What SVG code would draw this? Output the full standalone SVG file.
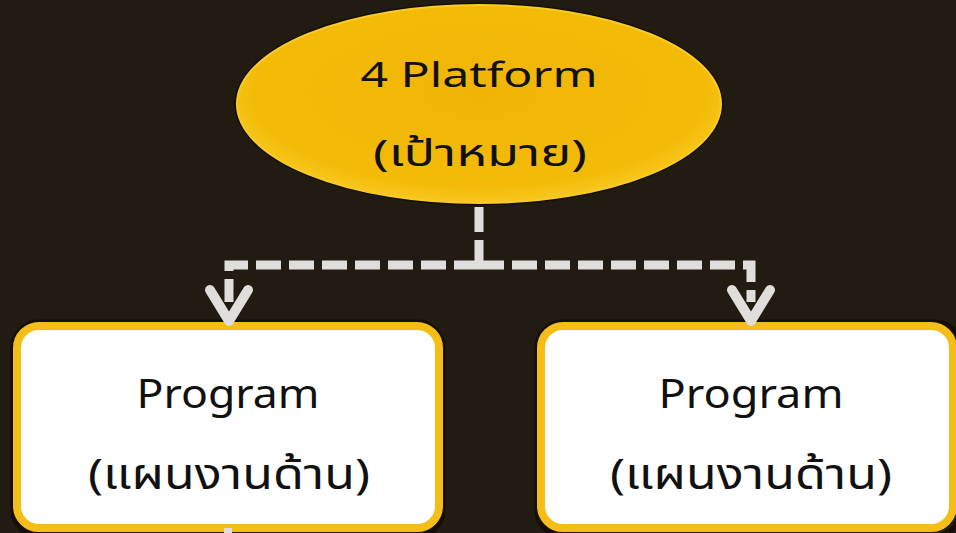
<svg xmlns="http://www.w3.org/2000/svg" width="956" height="533" viewBox="0 0 956 533">
  <style>
    .bg { fill: #221b12; }
    .halo { fill: none; stroke: #150e07; }
    .box { fill: #ffffff; stroke: #f4bd17; stroke-width: 8; }
    .txt { font-family: "Noto Sans", "Noto Sans Thai", "DejaVu Sans", sans-serif; fill: #111111; text-anchor: middle; }
    .t1 { font-size: 35px; }
    .t1th { font-size: 37px; }
    .t2 { font-size: 40px; }
    .t2th { font-size: 42px; }
    .conn { fill: none; stroke: #e0dedc; stroke-width: 9; stroke-dasharray: 25 8; }
    .solid { fill: none; stroke: #e0dedc; stroke-width: 8; }
  </style>
  <defs>
    <radialGradient id="goldFill" cx="0.5" cy="0.45" r="0.55">
      <stop offset="0" stop-color="#f1b406"/>
      <stop offset="0.85" stop-color="#f3bb08"/>
      <stop offset="1" stop-color="#f8c820"/>
    </radialGradient>
    <marker id="chev" markerUnits="userSpaceOnUse" viewBox="-20 -30 60 60" markerWidth="60" markerHeight="60" refX="0" refY="0" orient="auto" overflow="visible">
      <path d="M -12 -19 L 19 0 L -12 19" fill="none" stroke="#e0dedc" stroke-width="10" stroke-linejoin="round" stroke-linecap="round"/>
    </marker>
  </defs>
  <rect class="bg" x="0" y="0" width="956" height="533"/>

  <g id="node-platform">
    <ellipse class="halo" cx="479" cy="104" rx="243" ry="100" stroke-width="3"/>
    <ellipse cx="479" cy="104" rx="242" ry="99" fill="url(#goldFill)" stroke="#f8cb2a" stroke-width="2"/>
    <text class="txt t1" x="479" y="87" textLength="237" lengthAdjust="spacingAndGlyphs">4 Platform</text>
    <text class="txt t1th" x="480" y="166" textLength="214" lengthAdjust="spacingAndGlyphs">(เป้าหมาย)</text>
  </g>

  <g id="node-program-left">
    <rect class="halo" x="13" y="322" width="430" height="214" rx="26" stroke-width="5"/>
    <rect class="box" x="17" y="326" width="422" height="202" rx="22"/>
    <text class="txt t2" x="228" y="408" textLength="183" lengthAdjust="spacingAndGlyphs">Program</text>
    <text class="txt t2th" x="229" y="489" textLength="282" lengthAdjust="spacingAndGlyphs">(แผนงานด้าน)</text>
  </g>

  <g id="node-program-right">
    <rect class="halo" x="537" y="322" width="424" height="214" rx="26" stroke-width="5"/>
    <rect class="box" x="541" y="326" width="412" height="202" rx="22"/>
    <text class="txt t2" x="751" y="408" textLength="185" lengthAdjust="spacingAndGlyphs">Program</text>
    <text class="txt t2th" x="751" y="489" textLength="282" lengthAdjust="spacingAndGlyphs">(แผนงานด้าน)</text>
  </g>

  <g id="connectors">
    <path class="conn" d="M 479 265 V 204"/>
    <path class="conn" d="M 479 265 H 229 V 302" marker-end="url(#chev)"/>
    <path class="conn" d="M 479 265 H 751 V 302" marker-end="url(#chev)"/>
    <path class="solid" d="M 228 528 V 533"/>
  </g>
</svg>
